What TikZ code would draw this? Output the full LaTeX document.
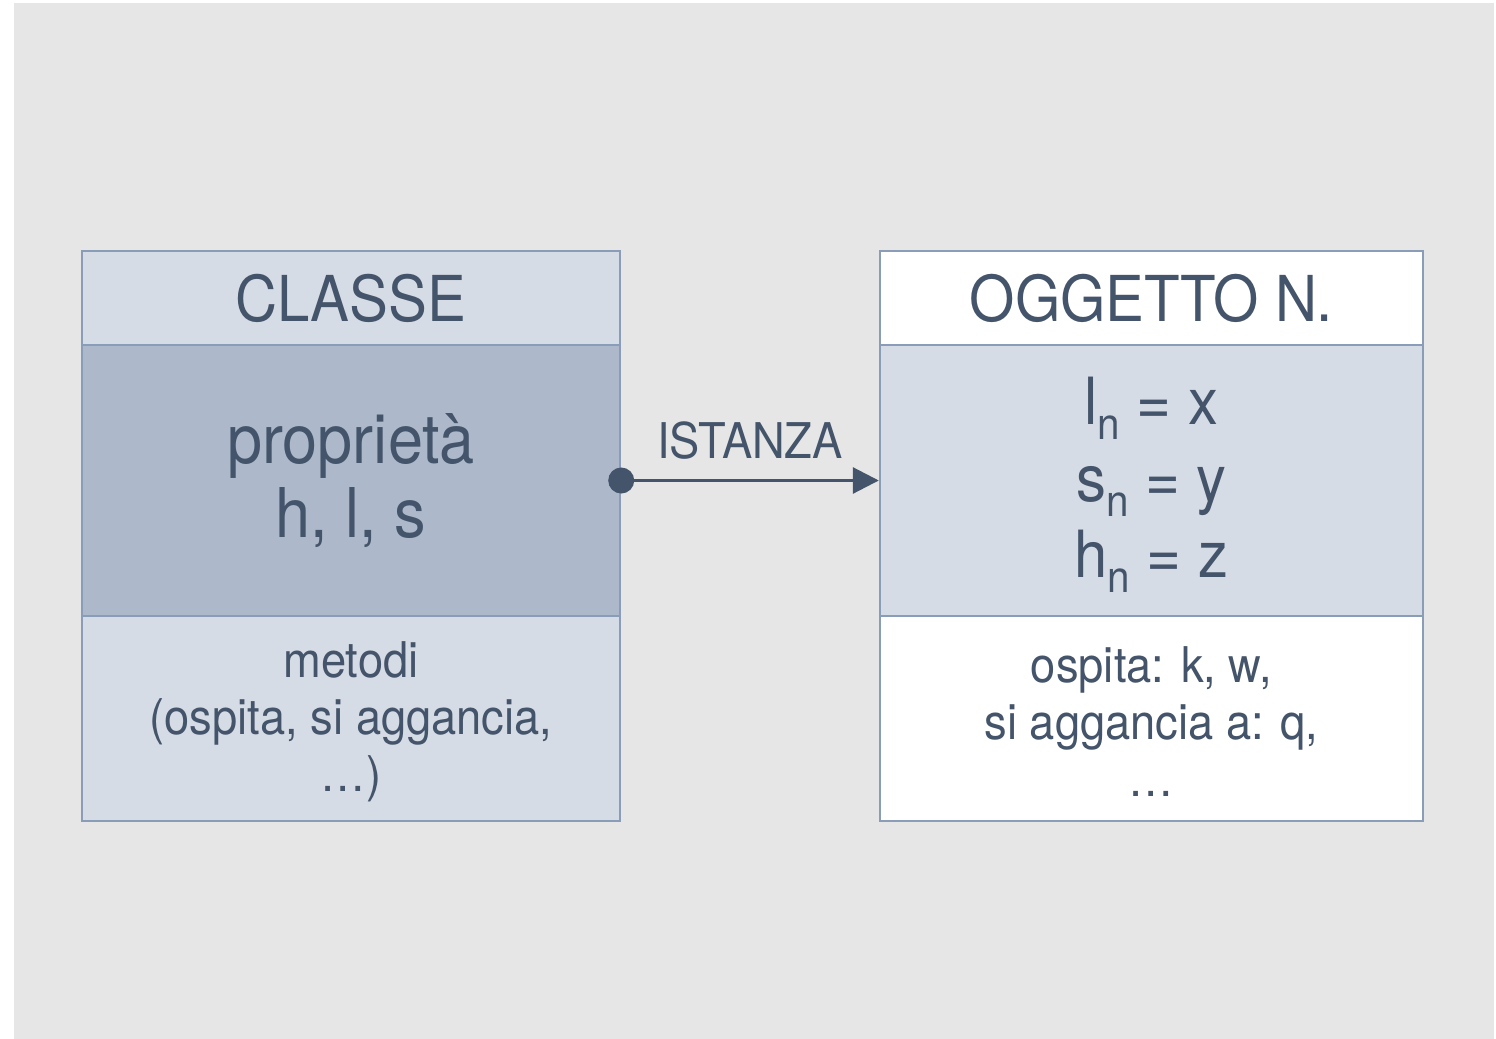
\documentclass[tikz,border=0pt]{standalone}
\usepackage{fontspec}
\setmainfont{TeX Gyre Heros}[FakeStretch=0.92]
\usetikzlibrary{arrows.meta}
\definecolor{bggray}{HTML}{E6E6E6}
\definecolor{lightfill}{HTML}{D6DCE5}
\definecolor{midfill}{HTML}{ADB9CA}
\definecolor{cellborder}{HTML}{8A9DB8}
\definecolor{celltext}{HTML}{44546A}
\newcommand{\idx}[1]{\raisebox{-4.3pt}{\fontsize{12.5}{12.5}\selectfont #1}}
\begin{document}
\begin{tikzpicture}[x=0.01cm,y=-0.01cm,
  cell/.style={draw=cellborder, line width=0.6pt, text=celltext, inner sep=0pt, align=center},
  lcell/.style={cell, minimum width=5.38cm},
  rcell/.style={cell, minimum width=5.43cm}]
\useasboundingbox (0,0) rectangle (1496,1039);
\fill[bggray] (14,3) rectangle (1494,1039);
% classe
\node[lcell, fill=lightfill, minimum height=0.94cm, font=\fontsize{18}{21}\selectfont] (cls0) at (351,298) {CLASSE};
\node[lcell, fill=midfill, minimum height=2.71cm, font=\fontsize{19.5}{21.3}\selectfont] (cls1) at (351,480.5) {propriet\`a\\h, l, s};
\node[lcell, fill=lightfill, minimum height=2.05cm, font=\fontsize{14}{16.2}\selectfont] (cls2) at (351,718.5) {\rule{0pt}{12pt}metodi\\(ospita, si aggancia,\\…)};
% oggetto
\node[rcell, fill=white, minimum height=0.94cm, font=\fontsize{18}{21}\selectfont] (obj0) at (1151.5,298) {OGGETTO N.};
\node[rcell, fill=lightfill, minimum height=2.71cm, font=\fontsize{18.5}{21.8}\selectfont] (obj1) at (1151.5,480.5) {\rule{0pt}{16pt}l\idx{n} = x\\s\idx{n} = y\\h\idx{n} = z};
\node[rcell, fill=white, minimum height=2.05cm, font=\fontsize{14}{16.2}\selectfont] (obj2) at (1151.5,718.5) {\rule{0pt}{12pt}ospita: k, w,\\si aggancia a: q,\\…};
% istanza
\node[circle, fill=celltext, inner sep=0pt, minimum size=0.26cm] (dot) at (cls1.east) {};
\draw[celltext, line width=0.85pt, -{Triangle[length=0.26cm,width=0.26cm]}] (dot.center) -- (obj1.west)
  node[midway, above=5.7pt, inner sep=0pt, font=\fontsize{14}{16}\selectfont] (lbl) {ISTANZA};
\end{tikzpicture}
\end{document}
